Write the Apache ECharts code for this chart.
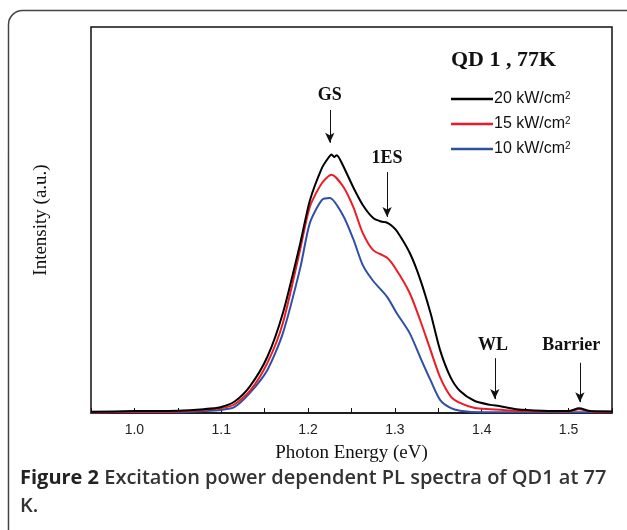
<!DOCTYPE html>
<html>
<head>
<meta charset="utf-8">
<script src="https://cdn.jsdelivr.net/npm/echarts@6/dist/echarts.min.js"></script>
<style>html,body{margin:0;padding:0;background:#fff}#c{width:627px;height:530px}</style>
</head>
<body>
<div id="c"></div>
<script>
// ---- data (photon energy in eV, intensity in a.u.) ----
const energyBlack = [0.95,1.00,1.05,1.08,1.099,1.115,1.133,1.153,1.171,1.191,1.202,1.216,1.223,1.227,1.230,1.233,1.240,1.252,1.263,1.275,1.284,1.291,1.296,1.302,1.317,1.329,1.341,1.352,1.364,1.375,1.392,1.41,1.42,1.44,1.47,1.50,1.512,1.525,1.55];
const intensityBlack = [0.3,0.5,0.6,1.0,1.5,2.9,6.9,14.5,25.9,44.0,55.0,63.5,66.0,67.0,66.3,66.8,64.2,58.5,53.9,50.5,49.6,49.3,48.6,47.2,41.5,34.7,25.9,16.3,9.3,5.7,3.1,2.1,1.8,1.0,0.6,0.5,1.2,0.5,0.4];

const energyRed = [0.95,1.00,1.05,1.08,1.099,1.115,1.133,1.153,1.171,1.191,1.202,1.216,1.227,1.240,1.252,1.263,1.275,1.291,1.302,1.317,1.329,1.341,1.352,1.364,1.375,1.392,1.41,1.45,1.50,1.512,1.525,1.55];
const intensityRed = [0.2,0.3,0.4,0.8,1.2,2.2,5.7,12.9,23.3,42.5,53.4,59.6,61.7,58.8,53.4,46.6,42.2,40.2,37.0,31.1,24.1,16.3,9.3,4.4,2.6,1.3,1.0,0.5,0.4,1.0,0.4,0.3];

const energyBlue = [0.95,1.00,1.05,1.08,1.099,1.115,1.133,1.153,1.171,1.191,1.202,1.216,1.225,1.240,1.252,1.263,1.275,1.291,1.302,1.317,1.329,1.341,1.352,1.364,1.375,1.40,1.45,1.50,1.55];
const intensityBlue = [0.1,0.2,0.2,0.5,0.8,1.5,5.2,11.1,20.7,37.6,49.2,55.2,55.7,51.3,45.1,38.3,34.2,30.1,25.9,20.7,14.5,8.5,3.4,1.3,0.6,0.2,0.2,0.2,0.2];

const seriesNames = ['20 kW/cm', '15 kW/cm', '10 kW/cm'];
const tickLabels = ['1.0','1.1','1.2','1.3','1.4','1.5'];

// annotations: label, label position (energy, intensity), arrow energy, arrow start/end intensity
const annLabels = ['GS', '1ES', 'WL', 'Barrier'];
const annLabelEnergy = [1.225, 1.291, 1.413, 1.503];
const annLabelY = [82.4, 66.0, 17.4, 17.6];
const annEnergy = [1.225, 1.291, 1.415, 1.513];
const annArrowTop = [78.5, 62.4, 14.2, 13.0];
const annArrowBottom = [70.0, 50.8, 3.6, 2.8];

// ---- chart ----
const pairs = (xs, ys) => xs.map((x, i) => [x, ys[i]]);
const serif = '"Liberation Serif", "DejaVu Serif", serif';
const sans = '"Liberation Sans", Arial, sans-serif';

const markLineData = annEnergy.map((e, i) => [
  {coord: [e, annArrowTop[i]]},
  {coord: [e, annArrowBottom[i]]}
]);
const markPointData = annLabelEnergy.map((e, i) => ({
  coord: [e, annLabelY[i]], value: annLabels[i]
}));

const chart = echarts.init(document.getElementById('c'), null, {renderer: 'canvas'});
chart.setOption({
  animation: false,
  backgroundColor: '#fff',
  title: {
    text: 'QD 1 , 77K',
    left: 446, top: 44,
    textStyle: {fontFamily: serif, fontWeight: 'bold', fontSize: 22, color: '#111'}
  },
  legend: {
    orient: 'vertical',
    left: 446, top: 86,
    itemWidth: 42, itemHeight: 2.5, itemGap: 6,
    icon: 'rect',
    data: seriesNames,
    formatter: n => '{a|' + n + '}{s|2}',
    textStyle: {
      padding: [0, 0, 0, -4],
      rich: {
        a: {fontFamily: sans, fontSize: 16, color: '#111', lineHeight: 16},
        s: {fontFamily: sans, fontSize: 10, color: '#111', verticalAlign: 'top', lineHeight: 16, padding: [0, 0, 9, 0]}
      }
    }
  },
  grid: {
    left: 91, right: 15, top: 27, bottom: 117,
    show: true, borderColor: '#111', borderWidth: 1.5, backgroundColor: 'transparent'
  },
  xAxis: {
    type: 'value', min: 0.95, max: 1.55, interval: 0.05,
    name: 'Photon Energy (eV)', nameLocation: 'middle', nameGap: 31,
    nameTextStyle: {fontFamily: serif, fontSize: 19, color: '#111'},
    axisLine: {show: true, lineStyle: {color: '#111', width: 1.5}},
    axisTick: {show: true, inside: true, length: 5, lineStyle: {color: '#111', width: 1}},
    splitLine: {show: false},
    axisLabel: {
      margin: 10, fontFamily: sans, fontSize: 14, color: '#222',
      formatter: v => {
        const k = Math.round(v * 100);
        if (k % 10 !== 0) return '';
        const lbl = (k / 100).toFixed(1);
        return tickLabels.includes(lbl) ? lbl : '';
      }
    }
  },
  yAxis: {
    type: 'value', min: 0, max: 100,
    name: 'Intensity (a.u.)', nameLocation: 'middle', nameGap: 40,
    nameTextStyle: {fontFamily: serif, fontSize: 19, color: '#111'},
    axisLine: {show: false}, axisTick: {show: false}, axisLabel: {show: false},
    splitLine: {show: false}
  },
  series: [
    {
      name: seriesNames[2], type: 'line', data: pairs(energyBlue, intensityBlue),
      showSymbol: false, smooth: 0.25,
      lineStyle: {color: '#2f4fa5', width: 2}, itemStyle: {color: '#2f4fa5'}, z: 2
    },
    {
      name: seriesNames[1], type: 'line', data: pairs(energyRed, intensityRed),
      showSymbol: false, smooth: 0.25,
      lineStyle: {color: '#ec1c24', width: 2}, itemStyle: {color: '#ec1c24'}, z: 3
    },
    {
      name: seriesNames[0], type: 'line', data: pairs(energyBlack, intensityBlack),
      showSymbol: false, smooth: 0.25,
      lineStyle: {color: '#000', width: 2}, itemStyle: {color: '#000'}, z: 4,
      markLine: {
        silent: true, symbol: ['none', 'arrow'], symbolSize: [7, 10],
        label: {show: false},
        lineStyle: {color: '#111', width: 1, type: 'solid'},
        data: markLineData
      },
      markPoint: {
        silent: true, symbol: 'circle', symbolSize: 1,
        itemStyle: {color: 'rgba(0,0,0,0)'},
        label: {
          show: true, position: 'inside', formatter: p => p.value,
          fontFamily: serif, fontWeight: 'bold', fontSize: 18, color: '#111'
        },
        data: markPointData
      }
    }
  ],
  graphic: [
    {
      type: 'rect', silent: true, z: -1,
      shape: {x: 8.5, y: 10.5, width: 700, height: 600, r: 14},
      style: {fill: 'none', stroke: '#444', lineWidth: 1.5}
    },
    {
      type: 'text', left: 20, top: 468, silent: true,
      style: {
        text: '{b|Figure 2} Excitation power dependent PL spectra of QD1 at 77',
        rich: {b: {fontFamily: '"Open Sans", sans-serif', fontWeight: 'bold', fontSize: 20, fill: '#222'}},
        font: '600 20px "Open Sans", sans-serif', fill: '#333'
      }
    },
    {
      type: 'text', left: 20, top: 496, silent: true,
      style: {text: 'K.', font: '600 20px "Open Sans", sans-serif', fill: '#333'}
    }
  ]
});
</script>
</body>
</html>
